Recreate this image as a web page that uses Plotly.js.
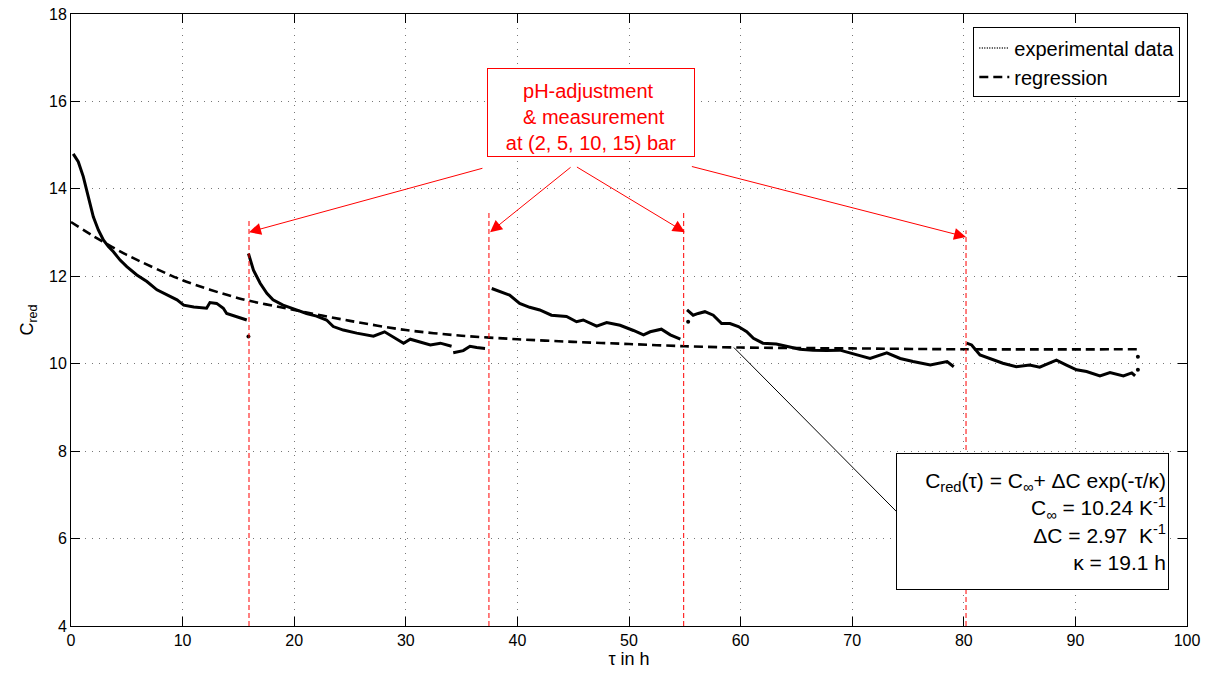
<!DOCTYPE html>
<html><head><meta charset="utf-8">
<script src="https://cdn.plot.ly/plotly-3.0.1.min.js"></script>
<style>html,body{margin:0;padding:0;background:#fff}#chart{width:1213px;height:675px}</style>
</head><body><div id="chart"></div>
<script>
// experimental data, segments separated by null
const expX = [0.2,0.65,1.1,1.55,2.0,2.45,2.9,3.35,3.8,4.4,5.0,5.9,6.8,7.7,8.6,9.5,10.1,11.0,12.15,12.45,13.05,13.65,13.95,14.85,15.75,
  null,
  15.9,16.35,16.95,17.55,18.1,19.0,20.2,21.1,22.0,22.9,23.5,24.4,25.6,27.1,28.1,28.9,29.8,30.4,31.3,32.2,33.1,34.1,
  null,
  34.25,35.15,35.75,36.35,37.1,
  null,
  37.7,38.45,39.3,40.2,41.1,42.0,43.05,44.4,45.3,45.9,47.1,48.0,49.2,50.4,51.3,51.9,52.9,53.7,54.6,
  null,
  55.2,55.75,56.2,56.8,57.55,58.3,59.05,59.8,60.55,61.15,62.0,63.2,64.1,65.3,66.5,67.7,68.9,70.1,71.6,73.1,74.3,75.45,77.0,78.5,79.1,
  null,
  80.25,80.7,81.45,82.35,83.5,84.7,85.9,86.8,87.7,88.3,89.2,90.1,91.0,92.2,93.1,94.3,95.05,95.35];
const expY = [14.80,14.62,14.28,13.82,13.36,13.06,12.83,12.68,12.56,12.37,12.22,12.03,11.88,11.69,11.57,11.46,11.34,11.30,11.27,11.40,11.38,11.27,11.15,11.07,11.00,
  null,
  12.52,12.14,11.84,11.61,11.46,11.34,11.23,11.15,11.09,11.00,10.85,10.77,10.70,10.63,10.73,10.60,10.47,10.56,10.50,10.43,10.47,10.40,
  null,
  10.25,10.30,10.40,10.37,10.35,
  null,
  11.72,11.65,11.57,11.38,11.29,11.23,11.11,11.08,10.96,11.00,10.86,10.94,10.88,10.76,10.66,10.73,10.79,10.66,10.56,
  null,
  11.23,11.11,11.15,11.19,11.11,10.92,10.92,10.85,10.73,10.58,10.47,10.45,10.40,10.33,10.31,10.30,10.31,10.22,10.12,10.25,10.12,10.05,9.97,10.05,9.93,
  null,
  10.47,10.43,10.20,10.12,10.01,9.93,9.97,9.92,10.01,10.08,9.97,9.86,9.82,9.72,9.80,9.72,9.79,9.72];
// isolated stray points
const strayX = [15.9,55.3,95.6,95.6];
const strayY = [10.62,10.96,10.16,9.86];
// regression curve
const regX = [0,2,5,10,15,20,25,30,35,40,45,50,55,60,70,80,95.5];
const regY = [13.24,12.92,12.49,11.91,11.50,11.23,10.98,10.77,10.64,10.56,10.50,10.45,10.40,10.37,10.35,10.33,10.33];
// pH-adjustment events
const eventX = [15.95,37.45,54.9,80.2];
const eventTop = [13.3,13.45,13.45,13.05];
const xTicks = [0,10,20,30,40,50,60,70,80,90,100];
const yTicks = [4,6,8,10,12,14,16,18];

const FONT = 'Liberation Sans, Arial, sans-serif';

const traces = [
  {x: expX, y: expY, mode: 'lines', line: {color: '#000', width: 3}, connectgaps: false, showlegend: false, hoverinfo: 'skip'},
  {x: strayX, y: strayY, mode: 'markers', marker: {color: '#000', size: 4}, showlegend: false},
  {x: [null], y: [null], mode: 'lines', name: 'experimental data', line: {color: '#000', width: 1.5, dash: '1px,1.5px'}},
  {x: regX, y: regY, mode: 'lines', name: 'regression', line: {color: '#000', width: 2.6, dash: '9px,5px', shape: 'spline', smoothing: 0.8}}
];

const shapes = eventX.map((ex, i) => ({type: 'line', xref: 'x', yref: 'y', x0: ex, x1: ex, y0: 4, y1: eventTop[i],
  line: {color: 'red', width: 1, dash: '5px,3px'}}));
shapes.push({type: 'line', xref: 'x', yref: 'y', x0: 59.4, y0: 10.37, x1: 74.0, y1: 6.61, line: {color: '#000', width: 1}});

const tails = [[37.0,14.48],[44.9,14.52],[45.2,14.52],[55.5,14.52]];
const heads = [[15.95,13.01],[37.55,13.01],[55.0,13.01],[80.2,12.9]];
const annotations = heads.map((h, i) => ({x: h[0], y: h[1], ax: tails[i][0], ay: tails[i][1], xref: 'x', yref: 'y', axref: 'x', ayref: 'y',
  text: '', showarrow: true, arrowhead: 2, arrowsize: 2.4, arrowwidth: 1, arrowcolor: 'red'}));
annotations.push({x: 46.6, y: 15.75, xref: 'x', yref: 'y', showarrow: false,
  text: 'pH-adjustment <br> & measurement<br>at (2, 5, 10, 15) bar', align: 'center', valign: 'bottom',
  font: {family: FONT, size: 20, color: 'red'}, bordercolor: 'red', borderwidth: 1, borderpad: 2, bgcolor: '#fff', width: 202, height: 83});
annotations.push({x: 86.2, y: 6.39, xref: 'x', yref: 'y', showarrow: false,
  text: 'C<sub>red</sub>(τ) = C<sub>∞</sub>+ ΔC exp(-τ/κ)<br>C<sub>∞</sub> = 10.24 K<sup>-1</sup><br>ΔC = 2.97  K<sup>-1</sup><br>κ = 19.1 h',
  align: 'right', font: {family: FONT, size: 21, color: '#000'}, bordercolor: '#000', borderwidth: 1, borderpad: 2, bgcolor: '#fff', width: 267, height: 131});

const layout = {
  width: 1213, height: 675,
  margin: {l: 71, r: 26, t: 14, b: 49},
  paper_bgcolor: '#fff', plot_bgcolor: '#fff',
  font: {family: FONT, size: 16, color: '#000'},
  xaxis: {range: [0, 100], tickvals: xTicks, ticks: 'inside', ticklen: 9, tickcolor: '#000', showline: true, mirror: 'ticks', linecolor: '#000', linewidth: 1,
    showgrid: true, gridcolor: '#777', griddash: '1px,6px', gridwidth: 1, zeroline: false, tickfont: {size: 16},
    title: {text: 'τ in h', font: {size: 18}, standoff: 3}},
  yaxis: {range: [4, 18], tickvals: yTicks, ticks: 'inside', ticklen: 9, tickcolor: '#000', showline: true, mirror: 'ticks', linecolor: '#000', linewidth: 1,
    showgrid: true, gridcolor: '#777', griddash: '1px,6px', gridwidth: 1, zeroline: false, tickfont: {size: 16},
    title: {text: 'C<sub>red</sub>', font: {size: 18}, standoff: 10}},
  legend: {x: 0.994, y: 0.978, xanchor: 'right', yanchor: 'top', bordercolor: '#000', borderwidth: 1, bgcolor: '#fff',
    font: {size: 20}, tracegroupgap: 0, itemwidth: 30},
  shapes: shapes,
  annotations: annotations,
  showlegend: true
};
Plotly.newPlot('chart', traces, layout, {displayModeBar: false, staticPlot: true});
</script></body></html>
